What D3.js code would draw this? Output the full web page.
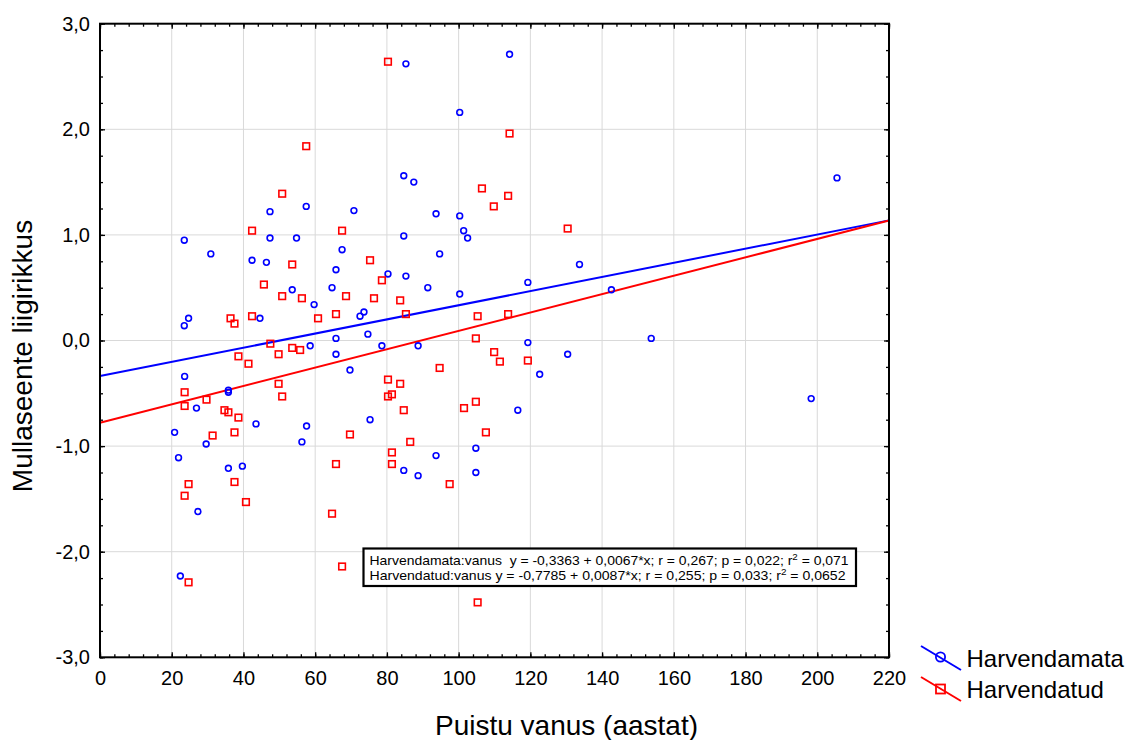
<!DOCTYPE html>
<html><head><meta charset="utf-8">
<script src="https://cdn.jsdelivr.net/npm/d3@7/dist/d3.min.js"></script>
<style>
html,body{margin:0;padding:0;background:#fff;}
svg{display:block;font-family:"Liberation Sans",Arial,sans-serif;}
</style></head>
<body>
<svg id="chart" width="1130" height="740"></svg>
<script>
// Harvendamata (not thinned): [age, richness]
const harvendamata = [
 [114.2,2.71],[85.3,2.62],[100.3,2.16],[205.5,1.54],[84.7,1.56],[87.5,1.50],[57.5,1.27],[47.4,1.22],
 [70.8,1.23],[93.7,1.20],[100.3,1.18],[101.4,1.04],[102.5,0.97],[84.7,0.99],[23.5,0.95],[47.4,0.97],
 [54.8,0.97],[30.9,0.82],[67.5,0.86],[94.7,0.82],[42.4,0.76],[46.4,0.74],[65.8,0.67],[133.7,0.72],
 [80.3,0.63],[85.3,0.61],[119.3,0.55],[142.6,0.48],[91.4,0.50],[64.7,0.50],[53.6,0.48],[100.3,0.44],
 [59.7,0.34],[24.7,0.21],[23.5,0.14],[44.6,0.21],[72.5,0.23],[73.6,0.27],[74.7,0.06],[65.8,0.02],
 [58.6,-0.05],[78.6,-0.05],[88.7,-0.05],[153.7,0.02],[119.3,-0.02],[65.8,-0.13],[130.4,-0.13],[122.6,-0.32],
 [69.7,-0.28],[23.6,-0.34],[198.3,-0.55],[35.8,-0.47],[35.8,-0.49],[26.9,-0.64],[116.5,-0.66],[20.8,-0.87],
 [43.5,-0.79],[57.6,-0.81],[75.3,-0.75],[29.6,-0.98],[56.3,-0.96],[104.8,-1.02],[21.9,-1.11],[35.8,-1.21],
 [39.7,-1.19],[84.7,-1.23],[88.7,-1.28],[93.7,-1.09],[104.8,-1.25],[27.3,-1.62],[22.4,-2.23]
];
// Harvendatud (thinned): [age, richness]
const harvendatud = [
 [80.3,2.64],[57.5,1.84],[114.2,1.96],[50.8,1.39],[106.5,1.44],[109.8,1.27],[113.8,1.37],[130.4,1.06],
 [42.4,1.04],[67.5,1.04],[75.3,0.76],[53.6,0.72],[45.7,0.53],[78.6,0.57],[50.8,0.42],[56.3,0.40],
 [68.6,0.42],[76.4,0.40],[83.7,0.38],[85.3,0.25],[113.8,0.25],[105.3,0.23],[36.4,0.21],[37.5,0.16],
 [42.4,0.23],[60.8,0.21],[65.8,0.25],[104.8,0.02],[47.5,-0.03],[38.6,-0.15],[49.8,-0.13],[53.6,-0.07],
 [55.8,-0.09],[41.4,-0.22],[49.8,-0.41],[50.8,-0.53],[23.6,-0.49],[23.6,-0.62],[29.7,-0.56],[34.7,-0.66],
 [35.8,-0.68],[38.6,-0.73],[37.5,-0.87],[31.4,-0.90],[24.7,-1.36],[23.6,-1.47],[37.5,-1.34],[40.7,-1.53],
 [24.7,-2.29],[65.8,-1.17],[69.7,-0.89],[64.7,-1.64],[67.5,-2.14],[80.3,-0.37],[83.7,-0.41],[80.3,-0.53],
 [81.4,-0.51],[84.7,-0.66],[81.4,-1.06],[81.4,-1.17],[86.5,-0.96],[94.7,-0.26],[97.5,-1.36],[101.5,-0.64],
 [104.8,-0.58],[107.6,-0.87],[105.3,-2.48],[109.9,-0.11],[111.5,-0.20],[119.3,-0.19]
];
// regression fits [intercept, slope]
const fitHarvendamata = [-0.3363, 0.0067];
const fitHarvendatud = [-0.7785, 0.0087];
const seriesNames = ["Harvendamata", "Harvendatud"];
const xTicks = [0,20,40,60,80,100,120,140,160,180,200,220];
const yTicks = [-3,-2,-1,0,1,2,3];
const xTitle = "Puistu vanus (aastat)";
const yTitle = "Mullaseente liigirikkus";
const statLines = [
  ["Harvendamata:vanus  y = -0,3363 + 0,0067*x; r = 0,267; p = 0,022; r", "2", " = 0,071"],
  ["Harvendatud:vanus y = -0,7785 + 0,0087*x; r = 0,255; p = 0,033; r", "2", " = 0,0652"]
];

const svg = d3.select("#chart");
const L = 100, R = 889, T = 23.7, B = 657.3;
const x = d3.scaleLinear().domain([0,220]).range([L,R]);
const y = d3.scaleLinear().domain([-3,3]).range([B,T]);
const loc = d3.formatLocale({decimal:",", thousands:" ", grouping:[3], currency:["",""], minus:"-"});
const fy = loc.format(".1f");
const grid = "#d9d9d9";

// gridlines
svg.append("g").selectAll("line").data(xTicks.filter(d=>d>0&&d<220)).join("line")
  .attr("x1",d=>x(d)).attr("x2",d=>x(d)).attr("y1",T).attr("y2",B)
  .attr("stroke",grid).attr("stroke-width",1);
svg.append("g").selectAll("line").data(yTicks.filter(d=>d>-3&&d<3)).join("line")
  .attr("y1",d=>y(d)).attr("y2",d=>y(d)).attr("x1",L).attr("x2",R)
  .attr("stroke",grid).attr("stroke-width",1);

// minor ticks
const xMinor = d3.range(0,221,4);
const yMinor = d3.range(-3,3.001,0.25);
function styleAxis(g){ g.select(".domain").remove(); g.selectAll("line").attr("stroke","#000").attr("stroke-width",1.3); }
svg.append("g").attr("transform",`translate(0,${B})`)
  .call(d3.axisBottom(x).tickValues(xMinor).tickSize(-3).tickFormat("")).call(styleAxis);
svg.append("g").attr("transform",`translate(0,${T})`)
  .call(d3.axisTop(x).tickValues(xMinor).tickSize(-3).tickFormat("")).call(styleAxis);
svg.append("g").attr("transform",`translate(${L},0)`)
  .call(d3.axisLeft(y).tickValues(yMinor).tickSize(-3).tickFormat("")).call(styleAxis);
svg.append("g").attr("transform",`translate(${R},0)`)
  .call(d3.axisRight(y).tickValues(yMinor).tickSize(-3).tickFormat("")).call(styleAxis);

// major ticks with labels
const xAx = svg.append("g").attr("transform",`translate(0,${B})`)
  .call(d3.axisBottom(x).tickValues(xTicks).tickSize(-5).tickPadding(14).tickFormat(d3.format("d")));
xAx.call(styleAxis);
xAx.selectAll("text").attr("font-size",20).attr("font-family","Liberation Sans, Arial, sans-serif").attr("fill","#000");
const yAx = svg.append("g").attr("transform",`translate(${L},0)`)
  .call(d3.axisLeft(y).tickValues(yTicks).tickSize(-5).tickPadding(10).tickFormat(fy));
yAx.call(styleAxis);
yAx.selectAll("text").attr("font-size",20).attr("font-family","Liberation Sans, Arial, sans-serif").attr("fill","#000");
svg.append("g").attr("transform",`translate(0,${T})`)
  .call(d3.axisTop(x).tickValues(xTicks).tickSize(-5).tickFormat("")).call(styleAxis);
svg.append("g").attr("transform",`translate(${R},0)`)
  .call(d3.axisRight(y).tickValues(yTicks).tickSize(-5).tickFormat("")).call(styleAxis);

// regression lines
const line = d3.line().x(d=>x(d[0])).y(d=>y(d[1]));
const fitPts = f => [0,220].map(v=>[v, f[0]+f[1]*v]);
svg.append("path").datum(fitPts(fitHarvendamata)).attr("d",line)
  .attr("fill","none").attr("stroke","#0000ff").attr("stroke-width",2);
svg.append("path").datum(fitPts(fitHarvendatud)).attr("d",line)
  .attr("fill","none").attr("stroke","#ff0000").attr("stroke-width",2);

// points
svg.append("g").selectAll("circle").data(harvendamata).join("circle")
  .attr("cx",d=>x(d[0])).attr("cy",d=>y(d[1])).attr("r",2.9)
  .attr("fill","none").attr("stroke","#0000ff").attr("stroke-width",1.6);
svg.append("g").selectAll("rect").data(harvendatud).join("rect")
  .attr("x",d=>x(d[0])-3.3).attr("y",d=>y(d[1])-3.3).attr("width",6.6).attr("height",6.6)
  .attr("fill","none").attr("stroke","#ff0000").attr("stroke-width",1.6);

// frame
svg.append("rect").attr("x",L).attr("y",T).attr("width",R-L).attr("height",B-T)
  .attr("fill","none").attr("stroke","#000").attr("stroke-width",2);

// stats box
const bx = 363.5, by = 548.5, bw = 492.5, bh = 37.5;
svg.append("rect").attr("x",bx).attr("y",by).attr("width",bw).attr("height",bh)
  .attr("fill","#fff").attr("stroke","#000").attr("stroke-width",2.2);
const statWidths = [479, 476];
statLines.forEach((ln,i)=>{
  const t = svg.append("text").attr("x",bx+6).attr("y",by+16.5+i*15)
    .attr("font-size",13.5).attr("fill","#000").style("white-space","pre")
    .attr("textLength",statWidths[i]).attr("lengthAdjust","spacingAndGlyphs");
  t.append("tspan").text(ln[0]);
  t.append("tspan").attr("font-size",9.5).attr("dy",-5).text(ln[1]);
  t.append("tspan").attr("dy",5).text(ln[2]);
});

// axis titles
svg.append("text").attr("x",566.5).attr("y",735).attr("text-anchor","middle")
  .attr("font-size",28).attr("fill","#000").text(xTitle);
svg.append("text").attr("transform","translate(32,356) rotate(-90)").attr("text-anchor","middle")
  .attr("font-size",28).attr("fill","#000").text(yTitle);

// legend
const leg = [
  {name:seriesNames[0], color:"#0000ff", shape:"circle", y1:646, y2:670, cy:657, ty:666.7},
  {name:seriesNames[1], color:"#ff0000", shape:"square", y1:677, y2:701, cy:689, ty:697.5}
];
leg.forEach(l=>{
  svg.append("line").attr("x1",921).attr("x2",961).attr("y1",l.y1).attr("y2",l.y2)
    .attr("stroke",l.color).attr("stroke-width",2);
  if(l.shape==="circle"){
    svg.append("circle").attr("cx",940.5).attr("cy",l.cy).attr("r",4.6)
      .attr("fill","none").attr("stroke",l.color).attr("stroke-width",1.8);
  } else {
    svg.append("rect").attr("x",936).attr("y",l.cy-4.5).attr("width",9).attr("height",9)
      .attr("fill","none").attr("stroke",l.color).attr("stroke-width",1.8);
  }
  svg.append("text").attr("x",966.5).attr("y",l.ty).attr("font-size",24).attr("fill","#000").text(l.name);
});
</script>
</body></html>
